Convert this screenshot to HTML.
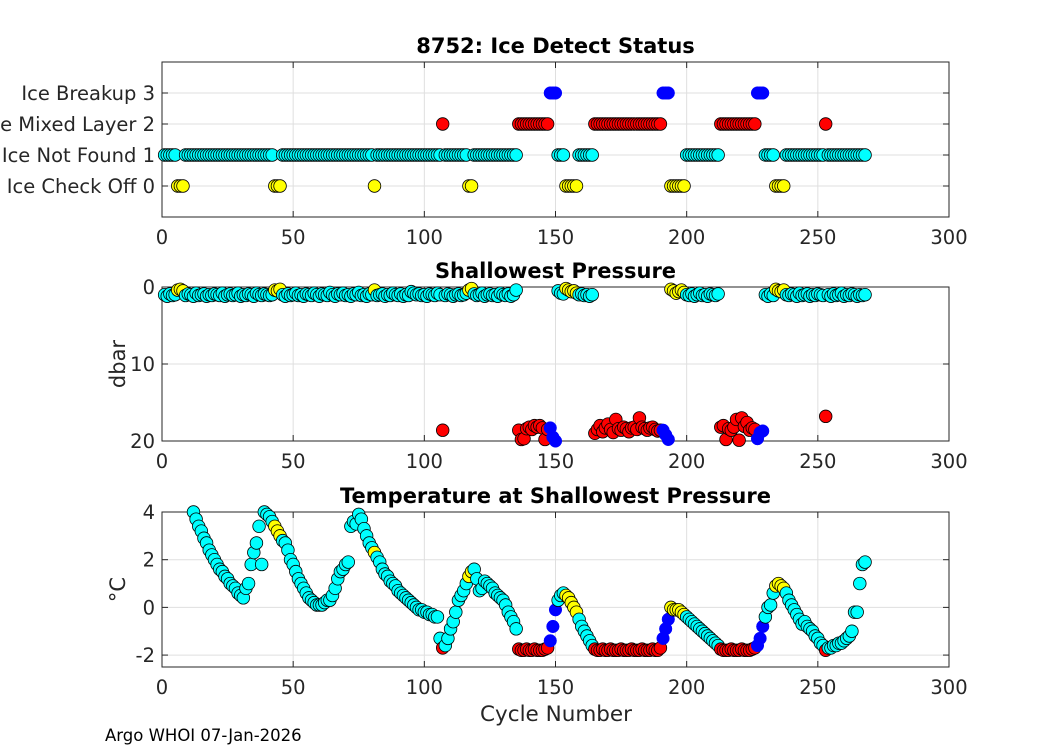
<!DOCTYPE html>
<html><head><meta charset="utf-8"><style>
body{margin:0;background:#fff;font-family:"DejaVu Sans","Liberation Sans",sans-serif}
svg{display:block;font-family:"DejaVu Sans","Liberation Sans",sans-serif}
</style></head><body>
<svg id="c" width="1050" height="750"></svg>
<script>
const statuses=[
1,1,1,1,1,0,0,0,1,1, 1,1,1,1,1,1,1,1,1,1, 1,1,1,1,1,1,1,1,1,1, 1,1,1,1,1,1,1,1,1,1,
1,1,0,0,0,1,1,1,1,1, 1,1,1,1,1,1,1,1,1,1, 1,1,1,1,1,1,1,1,1,1, 1,1,1,1,1,1,1,1,1,1,
0,1,1,1,1,1,1,1,1,1, 1,1,1,1,1,1,1,1,1,1, 1,1,1,1,1,1,2,1,1,1, 1,1,1,1,1,1,0,0,1,1,
1,1,1,1,1,1,1,1,1,1, 1,1,1,1,1,2,2,2,2,2, 2,2,2,2,2,2,2,3,3,3, 1,1,1,0,0,0,0,0,1,1,
1,1,1,1,2,2,2,2,2,2, 2,2,2,2,2,2,2,2,2,2, 2,2,2,2,2,2,2,2,2,2, 3,3,3,0,0,0,0,0,0,1,
1,1,1,1,1,1,1,1,1,1, 1,1,2,2,2,2,2,2,2,2, 2,2,2,2,2,2,3,3,3,1, 1,1,1,0,0,0,0,1,1,1,
1,1,1,1,1,1,1,1,1,1, 1,1,2,1,1,1,1,1,1,1, 1,1,1,1,1,1,1,1];
const pressures=[
1.0,1.2,0.9,1.1,1.0,0.4,0.3,0.5,1.1,0.9, 1.0,1.2,0.8,1.1,1.0,0.9,1.2,1.0,1.1,0.9,
1.0,1.1,0.8,1.2,1.0,0.9,1.1,1.0,0.8,1.2, 1.0,1.1,0.9,1.0,1.2,0.8,1.0,1.1,0.9,1.0,
1.1,1.0,0.4,0.5,0.3,1.0,1.2,0.9,1.1,1.0, 0.8,1.1,1.0,1.2,0.9,1.0,1.1,0.8,1.0,1.2,
0.9,1.0,1.1,0.7,1.0,1.2,0.9,1.0,0.8,1.1, 1.0,1.2,0.9,1.0,0.7,1.1,1.0,1.2,0.9,1.0,
0.4,1.1,1.0,0.9,1.2,1.0,1.1,0.8,1.0,1.1, 0.9,1.2,1.0,1.1,0.6,0.8,1.0,0.9,1.1,1.0,
1.2,0.9,1.0,1.1,0.8,1.0,18.6,1.1,0.9,1.0, 1.2,1.0,0.9,1.1,1.0,0.8,0.4,0.2,0.9,1.1,
1.0,0.8,1.2,1.0,0.9,1.1,1.0,1.2,0.8,1.0, 1.1,0.9,1.2,1.0,0.4,18.6,19.8,19.7,18.4,18.2,
18.5,18.0,18.2,18.0,18.3,19.8,18.5,18.3,19.5,20.0, 0.5,0.8,0.9,0.2,0.4,0.6,0.5,0.8,1.0,0.9,
1.1,1.0,1.2,1.0,19.0,18.5,18.0,18.8,18.3,17.8, 18.5,18.9,17.2,18.4,18.6,18.2,18.4,18.8,18.3,18.2,
18.5,17.0,18.2,18.4,18.6,18.3,18.2,18.5,18.7,18.6, 18.6,19.2,19.8,0.3,0.5,0.8,0.6,0.4,0.7,1.0,
1.1,0.9,1.2,1.0,0.8,1.1,1.0,1.2,0.9,1.0, 1.1,0.9,18.2,18.0,19.8,18.4,18.6,18.2,17.2,19.9,
17.0,18.1,17.6,18.6,18.3,18.5,19.7,18.9,18.7,1.0, 1.2,0.9,1.1,0.3,0.5,0.6,0.4,1.0,1.1,0.9,
1.0,1.2,0.8,1.1,1.0,0.9,1.2,1.0,1.1,0.9, 1.0,1.1,16.8,1.0,1.2,0.9,1.1,1.0,0.8,1.2,
1.0,1.1,0.9,1.0,1.2,1.0,1.1,1.0];
const temps=[
null,null,null,null,null,null,null,null,null,null, null,4.0,3.7,3.4,3.2,2.9,2.7,2.4,2.2,2.0,
1.8,1.6,1.5,1.3,1.2,1.0,0.9,0.8,0.6,0.5, 0.4,0.8,1.0,1.8,2.3,2.7,3.4,1.8,4.0,3.9,
3.8,3.6,3.4,3.2,3.0,2.8,2.7,2.4,2.0,1.8, 1.5,1.2,1.0,0.8,0.6,0.4,0.3,0.2,0.1,0.1,
0.1,0.2,0.3,0.3,0.5,0.8,1.2,1.5,1.6,1.8, 1.9,3.4,3.6,3.5,3.9,3.7,3.3,3.0,2.7,2.5,
2.3,2.1,1.9,1.6,1.4,1.3,1.1,1.0,0.9,0.7, 0.6,0.5,0.4,0.3,0.2,0.1,0.0,-0.1,-0.1,-0.2,
-0.2,-0.3,-0.3,-0.4,-0.4,-1.3,-1.7,-1.6,-1.3,-0.9, -0.6,-0.2,0.3,0.5,0.7,1.0,1.3,1.5,1.6,1.2,
0.7,0.8,1.1,1.0,0.9,0.8,0.6,0.5,0.4,0.3, 0.1,-0.2,-0.4,-0.6,-0.9,-1.75,-1.8,-1.8,-1.75,-1.8,
-1.8,-1.75,-1.8,-1.8,-1.8,-1.75,-1.7,-1.4,-0.8,-0.1, 0.3,0.5,0.6,0.5,0.4,0.2,0.0,-0.2,-0.5,-0.8,
-1.0,-1.2,-1.4,-1.6,-1.75,-1.8,-1.8,-1.75,-1.8,-1.8, -1.75,-1.8,-1.8,-1.8,-1.75,-1.8,-1.8,-1.8,-1.75,-1.8,
-1.8,-1.8,-1.75,-1.8,-1.8,-1.8,-1.75,-1.8,-1.8,-1.7, -1.3,-0.9,-0.5,0.0,-0.1,-0.1,-0.1,-0.2,-0.3,-0.4,
-0.5,-0.6,-0.7,-0.8,-0.9,-1.0,-1.1,-1.2,-1.3,-1.4, -1.5,-1.6,-1.75,-1.8,-1.8,-1.8,-1.75,-1.8,-1.8,-1.8,
-1.75,-1.8,-1.8,-1.8,-1.75,-1.7,-1.6,-1.3,-0.8,-0.4, 0.0,0.1,0.6,0.9,1.0,0.9,0.8,0.6,0.3,0.1,
-0.1,-0.3,-0.5,-0.7,-0.6,-0.8,-0.9,-1.0,-1.2,-1.3, -1.5,-1.6,-1.8,-1.7,-1.7,-1.6,-1.6,-1.5,-1.5,-1.4,
-1.3,-1.2,-1.0,-0.2,-0.2,1.0,1.8,1.9];
const xTicks=[0,50,100,150,200,250,300];
const statusLabels=["Ice Check Off 0","Ice Not Found 1","Ice Mixed Layer 2","Ice Breakup 3"];
const presTicks=[0,10,20];
const tempTicks=[-2,0,2,4];
const colors=["#ffff00","#00ffff","#ff0000","#0000ff"];

const NS="http://www.w3.org/2000/svg";
const svg=document.getElementById('c');
function mk(tag,at,parent){const e=document.createElementNS(NS,tag);for(const k in at)e.setAttribute(k,at[k]);(parent||svg).appendChild(e);return e;}
const X0=162,X1=949;
const sx=v=>X0+(v/300)*(X1-X0);
const panels=[
 {name:'ice-status',top:62,bot:217,y0:-1,y1:4,rev:false,title:'8752: Ice Detect Status',ticks:[0,1,2,3],labels:statusLabels,vals:statuses},
 {name:'shallowest-pressure',top:287,bot:441,y0:0,y1:20,rev:true,title:'Shallowest Pressure',ticks:presTicks,labels:presTicks.map(String),vals:pressures,ylab:'dbar'},
 {name:'temperature',top:512,bot:667,y0:-2.5,y1:4,rev:false,title:'Temperature at Shallowest Pressure',ticks:tempTicks,labels:tempTicks.map(String),vals:temps,ylab:'°C'}
];
panels.forEach(p=>{
 const sy=v=>p.rev? p.top+(v-p.y0)/(p.y1-p.y0)*(p.bot-p.top) : p.bot-(v-p.y0)/(p.y1-p.y0)*(p.bot-p.top);
 const g=mk('g',{});
 
 
 mk('rect',{x:X0,y:p.top,width:X1-X0,height:p.bot-p.top,fill:'#fff'},g);
 xTicks.forEach(t=>{
  mk('line',{x1:sx(t),x2:sx(t),y1:p.top,y2:p.bot,stroke:'#dfdfdf','stroke-width':1},g);
  mk('line',{x1:sx(t),x2:sx(t),y1:p.bot,y2:p.bot-6,stroke:'#262626'},g);
  mk('line',{x1:sx(t),x2:sx(t),y1:p.top,y2:p.top+6,stroke:'#262626'},g);
  const tx=mk('text',{x:sx(t),y:p.bot+27,'font-size':19.5,'text-anchor':'middle',fill:'#262626'},g);
  tx.textContent=t;
  
  
 });
 p.ticks.forEach((t,i)=>{
  mk('line',{x1:X0,x2:X1,y1:sy(t),y2:sy(t),stroke:'#dfdfdf'},g);
  mk('line',{x1:X0,x2:X0+6,y1:sy(t),y2:sy(t),stroke:'#262626'},g);
  mk('line',{x1:X1,x2:X1-6,y1:sy(t),y2:sy(t),stroke:'#262626'},g);
  const tx=mk('text',{x:X0-7,y:sy(t)+7,'font-size':19.5,'text-anchor':'end',fill:'#262626'},g);
  tx.textContent=p.labels[i];
  
  
 });
 mk('rect',{x:X0,y:p.top,width:X1-X0,height:p.bot-p.top,fill:'none',stroke:'#262626','stroke-width':1},g);
 const ti=mk('text',{x:(X0+X1)/2,y:p.top-9,'font-size':21,'font-weight':'bold','text-anchor':'middle',fill:'#000'},g);
 ti.textContent=p.title;
 
 
 if(p.ylab){
  const cy=(p.top+p.bot)/2;
  const yl=mk('text',{x:125,y:cy,'font-size':21,'text-anchor':'middle',fill:'#262626',transform:`rotate(-90 125 ${cy})`},g);
  yl.textContent=p.ylab;
  
  
 }
 const mg=mk('g',{},g);
 for(let i=0;i<statuses.length;i++){
  const v=p.vals[i]; if(v===null||v===undefined)continue;
  const s=statuses[i];
  const c=mk('circle',{cx:sx(i+1),cy:sy(v),r:6.3,fill:colors[s],stroke:s===3?'#0000ff':'#000','stroke-width':s===3?0.5:0.8},mg);
  
  
 }
});
const xl=mk('text',{x:556,y:721,'font-size':21.5,'text-anchor':'middle',fill:'#262626'});
xl.textContent='Cycle Number';


const ft=mk('text',{x:105,y:741,'font-size':16.5,fill:'#000'});
ft.textContent='Argo WHOI 07-Jan-2026';


</script>
</body></html>
